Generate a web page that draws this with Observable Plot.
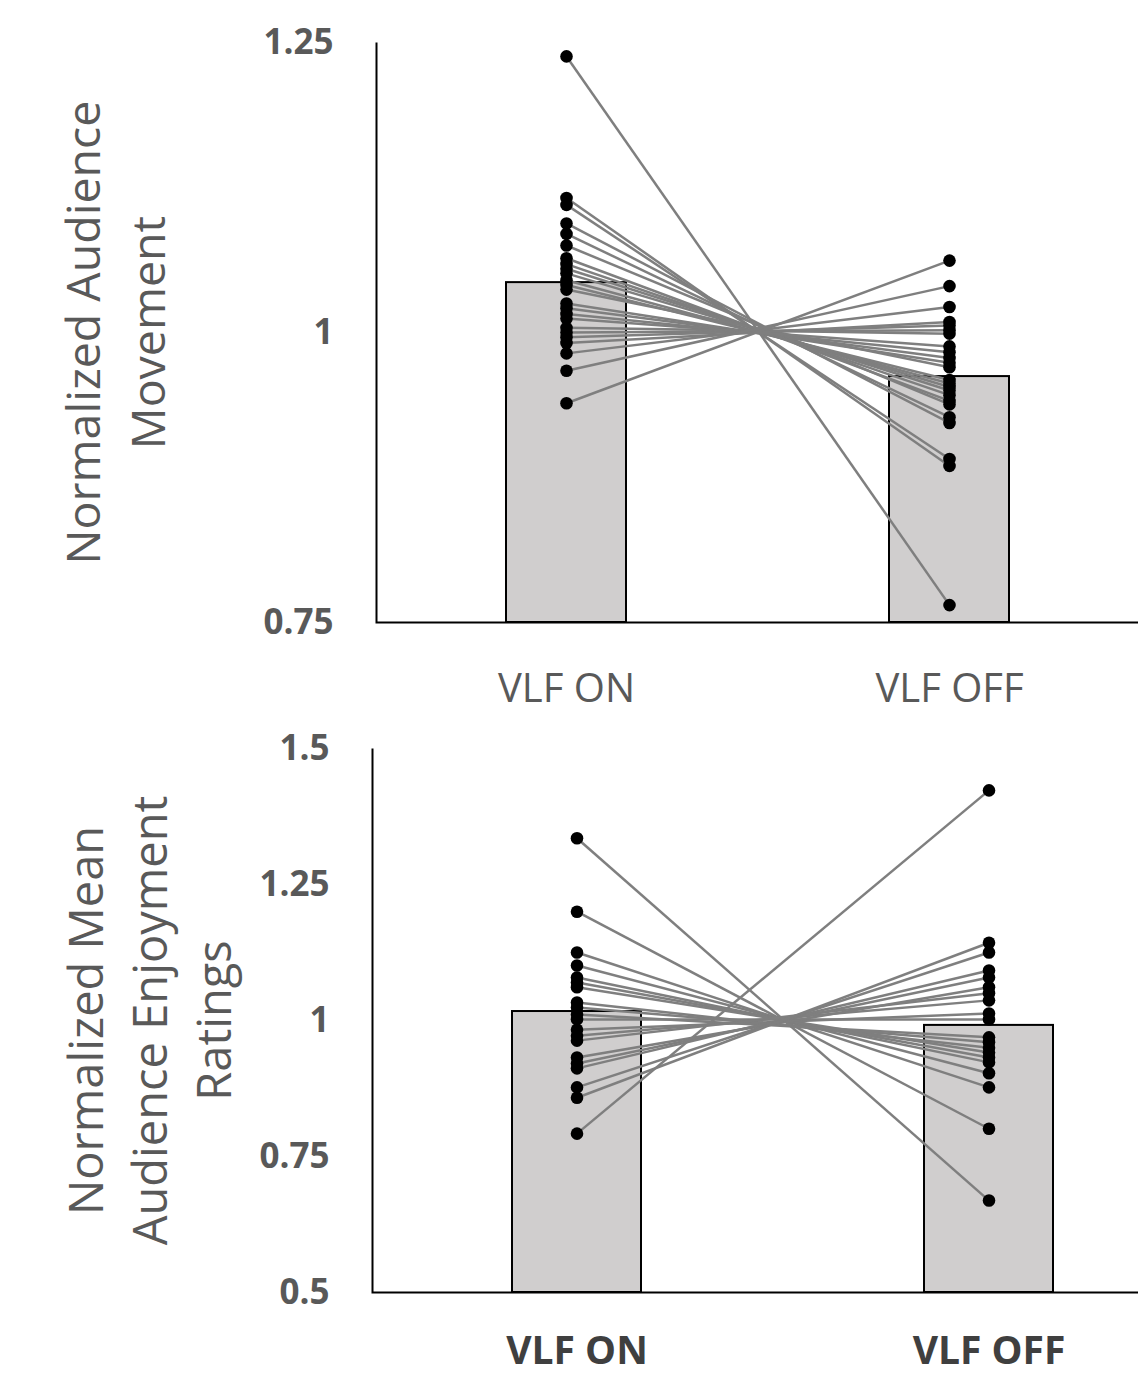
<!DOCTYPE html>
<html>
<head>
<meta charset="utf-8">
<script src="https://cdn.jsdelivr.net/npm/d3@7"></script>
<script src="https://cdn.jsdelivr.net/npm/@observablehq/plot@0.6"></script>
<style>
  html, body { margin: 0; padding: 0; background: #fff; }
  #chart { width: 1138px; }
  #chart svg { display: block; }
</style>
</head>
<body>
<div id="chart"></div>
<script>
// ---------- data ----------
const categories = ["VLF ON", "VLF OFF"];

// Top panel: Normalized Audience Movement (paired by index: ON[i] -> OFF[i])
const moveOn  = [1.238, 1.116, 1.110, 1.094, 1.085, 1.075, 1.064, 1.059, 1.055, 1.051, 1.045, 1.041,
                 1.037, 1.025, 1.021, 1.016, 1.012, 1.004, 1.000, 0.996, 0.991, 0.982, 0.967, 0.939];
const moveOff = [0.765, 0.885, 0.891, 0.922, 0.927, 0.938, 0.941, 0.946, 0.950, 0.953, 0.956, 0.959,
                 0.970, 0.974, 0.978, 0.983, 0.988, 0.999, 1.002, 1.006, 1.009, 1.022, 1.040, 1.062];
const moveMeans = [1.043, 0.962];
const moveTicks = [0.75, 1, 1.25];
const moveDomain = [0.75, 1.25];

// Bottom panel: Normalized Mean Audience Enjoyment Ratings (paired by index)
const enjoyOn  = [1.335, 1.200, 1.125, 1.101, 1.079, 1.070, 1.061, 1.033, 1.024, 1.011,
                  1.002, 0.983, 0.972, 0.963, 0.932, 0.921, 0.912, 0.877, 0.858, 0.792];
const enjoyOff = [0.669, 0.801, 0.877, 0.903, 0.923, 0.932, 0.941, 0.950, 0.960, 0.969,
                  1.002, 1.013, 1.037, 1.050, 1.061, 1.079, 1.092, 1.125, 1.143, 1.423];
const enjoyMeans = [1.0165, 0.991];
const enjoyTicks = [0.5, 0.75, 1, 1.25, 1.5];
const enjoyDomain = [0.5, 1.5];

// ---------- helpers ----------
const FONT = "Open Sans";

function panel({on, off, means, ticks, domain, title, height, marginTop, marginBottom, marginLeft,
                padding, align, xBold, xPad, xSize, titleDx, titleSize, titleLH}) {
  const pairs = on.map((v, i) => ({on: v, off: off[i]}));
  const dots = [
    ...on.map(v => ({cat: categories[0], v})),
    ...off.map(v => ({cat: categories[1], v}))
  ];
  const bars = categories.map((c, i) => ({cat: c, v: means[i]}));
  const W = 1138;
  const fw = W - marginLeft;
  const fh = height - marginTop - marginBottom;
  return Plot.plot({
    width: W,
    height,
    marginTop,
    marginBottom,
    marginLeft,
    marginRight: 0,
    style: {fontFamily: FONT, background: "#fff", overflow: "visible"},
    x: {domain: categories, paddingInner: padding.inner, paddingOuter: padding.outer, align, label: null},
    y: {domain, label: null},
    marks: [
      Plot.barY(bars, {x: "cat", y1: domain[0], y2: "v", fill: "#d0cece", stroke: "#000", strokeWidth: 2}),
      Plot.link(pairs, {x1: () => categories[0], x2: () => categories[1], y1: "on", y2: "off",
                        stroke: "#7f7f7f", strokeWidth: 2.5}),
      Plot.dot(dots, {x: "cat", y: "v", r: 6.3, fill: "#000"}),
      Plot.frame({stroke: "#000", strokeWidth: 2,
                  strokeDasharray: `0,${fw + fh},${fw + fh}`}),
      Plot.axisY({ticks, tickSize: 0, tickPadding: 43, fontSize: 35, fontWeight: "bold",
                  fill: "#595959", tickFormat: d => String(d), label: null}),
      Plot.axisX({tickSize: 0, tickPadding: xPad, fontSize: xSize, fontWeight: xBold ? "bold" : "normal",
                  fill: xBold ? "#3f3f3f" : "#595959", label: null}),
      Plot.text([title], {text: d => d, frameAnchor: "left", rotate: -90, dx: titleDx,
                          fontSize: titleSize, lineHeight: titleLH, fill: "#595959", textAnchor: "middle",
                          lineAnchor: "middle"})
    ]
  });
}

const topPanel = panel({
  on: moveOn, off: moveOff, means: moveMeans, ticks: moveTicks, domain: moveDomain,
  title: "Normalized Audience\nMovement",
  height: 720, marginTop: 42, marginBottom: 98, marginLeft: 376,
  padding: {inner: 0.687, outer: 0.338}, align: 0.5,
  xBold: false, xPad: 51, xSize: 40, titleDx: -265, titleSize: 46.5, titleLH: 1.4
});

const bottomPanel = panel({
  on: enjoyOn, off: enjoyOff, means: enjoyMeans, ticks: enjoyTicks, domain: enjoyDomain,
  title: "Normalized Mean\nAudience Enjoyment\nRatings",
  height: 655, marginTop: 28, marginBottom: 83, marginLeft: 372,
  padding: {inner: 0.687, outer: 0.273}, align: 0.62,
  xBold: true, xPad: 44, xSize: 39, titleDx: -226, titleSize: 47, titleLH: 1.37
});

document.getElementById("chart").append(topPanel, bottomPanel);
</script>
</body>
</html>
